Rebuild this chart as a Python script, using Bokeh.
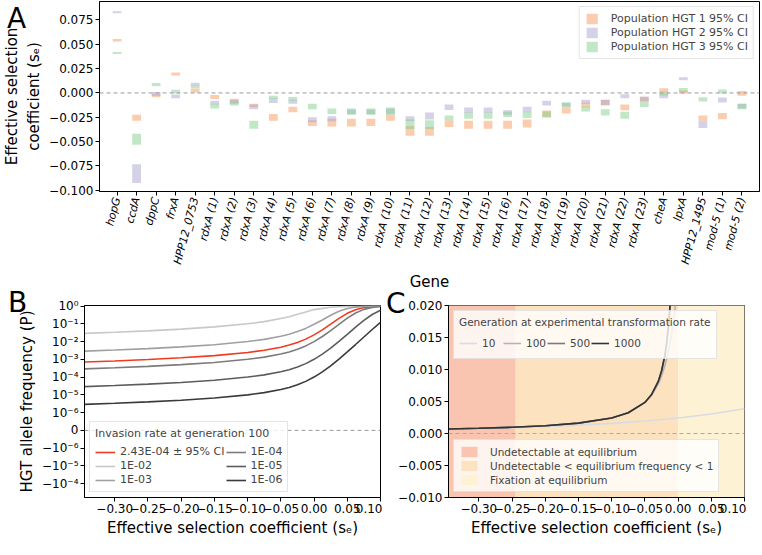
import math
from bokeh.plotting import figure
from bokeh.models import (FactorRange, Range1d, Span, Legend, LegendItem, Div,
                          FixedTicker, CustomJSTickFormatter)
from bokeh.layouts import column, row
from bokeh.embed import file_html
from bokeh.resources import INLINE

FONT = "DejaVu Sans"

# ---------------- Panel A data ----------------
genes = ["hopG", "ccdA", "dppC", "frxA", "HPP12_0753"] + \
        [f"rdxA ({i})" for i in range(1, 24)] + \
        ["cheA", "lpxA", "HPP12_1495", "mod-5 (1)", "mod-5 (2)"]

pop1_lo = [0.053, -0.0287, -0.0045, 0.018, 0.0004, -0.0061, -0.010, -0.0145, -0.0287, -0.0199,
           -0.034, -0.0345, -0.0345, -0.034, -0.0287, -0.044, -0.044, -0.035, -0.0368, -0.0368,
           -0.0368, -0.0355, -0.0245, -0.021, -0.015, -0.0126, -0.0177, -0.0087,
           0.0005, -0.0006, -0.0287, -0.0271, -0.0029]
pop1_hi = [0.0555, -0.0223, -0.0010, 0.021, 0.0045, -0.0022, -0.006, -0.011, -0.0216, -0.0141,
           -0.028, -0.0264, -0.0264, -0.0264, -0.0223, -0.034, -0.035, -0.028, -0.0287, -0.0287,
           -0.0287, -0.0274, -0.018, -0.015, -0.0097, -0.0071, -0.0119, -0.0039,
           0.0048, 0.0026, -0.0232, -0.0206, 0.0019]
pop2_lo = [0.082, -0.0925, -0.003, -0.0054, 0.0075, -0.012, -0.011, -0.0167, -0.0103, -0.0112,
           -0.030, -0.029, -0.022, -0.022, -0.022, -0.029, -0.0274, -0.0174, -0.0206, -0.0206,
           -0.0223, -0.0199, -0.0129, -0.014, -0.011, -0.0126, -0.0054, -0.0087,
           -0.0054, 0.013, -0.0361, -0.0097, -0.016]
pop2_hi = [0.084, -0.0732, 0.001, -0.0015, 0.0104, -0.008, -0.007, -0.012, -0.0054, -0.007,
           -0.025, -0.024, -0.017, -0.017, -0.016, -0.024, -0.020, -0.0119, -0.015, -0.015,
           -0.0177, -0.0141, -0.008, -0.010, -0.007, -0.0071, -0.0013, -0.004,
           -0.0006, 0.0162, -0.0287, -0.0048, -0.011]
pop3_lo = [0.040, -0.0532, 0.0068, -0.0006, 0.0048, -0.016, -0.0129, -0.0368, -0.0061, -0.008,
           -0.0167, -0.0216, -0.0223, -0.0223, -0.0223, -0.037, -0.037, -0.028, -0.0264, -0.0264,
           -0.0248, -0.0258, -0.0255, -0.015, -0.019, -0.0232, -0.0264, -0.0145,
           -0.0025, 0.001, -0.0087, -0.0006, -0.0167]
pop3_hi = [0.042, -0.0419, 0.0101, 0.0033, 0.008, -0.0112, -0.009, -0.0287, -0.0029, -0.0042,
           -0.0112, -0.016, -0.016, -0.016, -0.015, -0.027, -0.028, -0.0232, -0.020, -0.020,
           -0.0194, -0.0194, -0.019, -0.0097, -0.014, -0.0167, -0.0194, -0.0087,
           0.0016, 0.0052, -0.0045, 0.0036, -0.0112]
pop_labels = ["Population HGT 1 95% CI", "Population HGT 2 95% CI", "Population HGT 3 95% CI"]
yticks_a = [-0.100, -0.075, -0.050, -0.025, 0.000, 0.025, 0.050, 0.075]

# ---------------- Panel B data ----------------
se_b = [-0.345, -0.30, -0.25, -0.20, -0.15, -0.10, -0.075, -0.05, -0.0375, -0.025,
        -0.0125, 0.0, 0.0125, 0.025, 0.0375, 0.05, 0.0625, 0.075, 0.0875, 0.10]
p_red = [7.04e-4, 8.1e-4, 9.72e-4, 1.215e-3, 1.62e-3, 2.43e-3, 3.24e-3, 4.83e-3, 6.34e-3, 8.93e-3,
         0.0137, 0.0237, 0.0457, 0.0951, 0.2005, 0.388, 0.625, 0.8175, 0.924, 0.971]
p_1e2 = [0.029, 0.0333, 0.040, 0.050, 0.0667, 0.100, 0.133, 0.197, 0.25, 0.34,
         0.46, 0.63, 0.74, 0.85, 0.92, 0.96, 0.98, 0.99, 0.995, 0.998]
p_1e3 = [0.0029, 0.00333, 0.0040, 0.0050, 0.00667, 0.0100, 0.0133, 0.0198, 0.0258, 0.0365,
         0.055, 0.095, 0.165, 0.302, 0.508, 0.723, 0.873, 0.949, 0.98, 0.993]
p_1e4 = [2.9e-4, 3.33e-4, 4.0e-4, 5.0e-4, 6.67e-4, 1.0e-3, 1.33e-3, 1.99e-3, 2.6e-3, 3.67e-3,
         5.7e-3, 9.9e-3, 0.0193, 0.0415, 0.0936, 0.207, 0.407, 0.648, 0.834, 0.932]
p_1e5 = [2.9e-5, 3.33e-5, 4.0e-5, 5.0e-5, 6.67e-5, 1.0e-4, 1.33e-4, 1.99e-4, 2.61e-4, 3.68e-4,
         5.72e-4, 1.0e-3, 1.97e-3, 4.3e-3, 0.0102, 0.0254, 0.0642, 0.156, 0.334, 0.580]
p_1e6 = [2.9e-6, 3.33e-6, 4.0e-6, 5.0e-6, 6.67e-6, 1.0e-5, 1.33e-5, 1.99e-5, 2.61e-5, 3.68e-5,
         5.73e-5, 1.0e-4, 1.97e-4, 4.33e-4, 1.03e-3, 2.60e-3, 6.8e-3, 0.0181, 0.0478, 0.121]
b_series = [("2.43E-04 \u00b1 95% CI", p_red), ("1E-02", p_1e2), ("1E-03", p_1e3),
            ("1E-04", p_1e4), ("1E-05", p_1e5), ("1E-06", p_1e6)]
b_ticks = [7, 6, 5, 4, 3, 2, 1, 0, -1, -2, -3]
b_tick_labels = ["10\u2070", "10\u207b\u00b9", "10\u207b\u00b2", "10\u207b\u00b3", "10\u207b\u2074",
                 "10\u207b\u2075", "10\u207b\u2076", "0", "\u221210\u207b\u2076",
                 "\u221210\u207b\u2075", "\u221210\u207b\u2074"]
x_ticks = [-0.30, -0.25, -0.20, -0.15, -0.10, -0.05, 0.0, 0.05, 0.10]

# ---------------- Panel C data ----------------
se_g1000 = [-0.345, -0.30, -0.25, -0.20, -0.15, -0.10, -0.075, -0.05, -0.04, -0.03, -0.025,
            -0.02, -0.0175, -0.015, -0.0135, -0.0125, -0.012, -0.011]
g1000 = [7.04e-4, 8.1e-4, 9.72e-4, 1.215e-3, 1.62e-3, 2.43e-3, 3.24e-3, 4.86e-3, 6.08e-3, 8.1e-3,
         9.72e-3, 0.01215, 0.01389, 0.0162, 0.0180, 0.01944, 0.02025, 0.0221]
se_g500 = se_g1000
g500 = [7.04e-4, 8.1e-4, 9.72e-4, 1.215e-3, 1.62e-3, 2.43e-3, 3.24e-3, 4.86e-3, 6.07e-3, 8.09e-3,
        9.71e-3, 0.01214, 0.01388, 0.0162, 0.0180, 0.01943, 0.0202, 0.0220]
se_g100 = [-0.345, -0.30, -0.25, -0.20, -0.15, -0.10, -0.075, -0.05, -0.04, -0.03, -0.025,
           -0.02, -0.015, -0.01, -0.005, -0.0025]
g100 = [7.04e-4, 8.1e-4, 9.72e-4, 1.215e-3, 1.62e-3, 2.43e-3, 3.24e-3, 4.83e-3, 5.97e-3, 7.72e-3,
        8.93e-3, 0.01054, 0.01263, 0.0154, 0.01916, 0.02152]
se_g10 = [-0.345, -0.30, -0.25, -0.20, -0.15, -0.10, -0.05, 0.0, 0.05, 0.10]
g10 = [6.94e-4, 7.87e-4, 9.17e-4, 1.085e-3, 1.301e-3, 1.583e-3, 1.95e-3, 2.43e-3, 3.057e-3, 3.87e-3]
region_left = [-0.36, -0.2445, 0.0]
region_right = [-0.2445, 0.0, 0.11]
region_labels = ["Undetectable at equilibrium",
                 "Undetectable < equilibrium frequency < 1",
                 "Fixation at equilibrium"]
c_yticks = [-0.010, -0.005, 0.000, 0.005, 0.010, 0.015, 0.020]
panel_letters = ["A", "B", "C"]

# ---------------- helpers ----------------
def fmt(decimals):
    return CustomJSTickFormatter(code=f"""
        const s = Math.abs(tick).toFixed({decimals});
        return (tick < -1e-12 ? '\\u2212' : '') + s;""")

def style(p):
    p.grid.visible = False
    p.outline_line_color = "black"
    p.outline_line_width = 1
    p.background_fill_color = "white"
    for ax in p.axis:
        ax.major_label_text_font = FONT
        ax.major_label_text_font_size = "12px"
        ax.major_label_text_color = "black"
        ax.axis_label_text_font = FONT
        ax.axis_label_text_font_size = "15px"
        ax.axis_label_text_font_style = "normal"
        ax.axis_label_text_color = "black"
        ax.minor_tick_line_color = None
        ax.major_tick_out = 4
        ax.major_tick_in = 0
        ax.major_label_standoff = 2
        ax.axis_label_standoff = 3
        ax.axis_line_color = "black"
        ax.major_tick_line_color = "black"

def style_legend(lg, size="11px"):
    lg.label_text_font = FONT
    lg.label_text_font_size = size
    lg.title_text_font = FONT
    lg.title_text_font_size = size
    lg.title_text_font_style = "normal"
    lg.border_line_color = "#cccccc"
    lg.background_fill_color = "white"
    lg.background_fill_alpha = 0.8
    lg.padding = 5
    lg.spacing = 1
    lg.margin = 5

def symlog(v, lt=1e-6):
    if abs(v) <= lt:
        return v / lt
    return math.copysign(math.log10(abs(v) / lt) + 1.0, v)

def letter(text, left, top):
    return Div(text=text, styles={"position": "absolute", "left": f"{left}px", "top": f"{top}px",
                                  "font-family": FONT, "font-size": "28px", "line-height": "1",
                                  "color": "black", "z-index": "10"})

# ---------------- Panel A ----------------
pA = figure(x_range=FactorRange(*genes, range_padding=0.4, range_padding_units="absolute"),
            y_range=Range1d(-0.1013, 0.0940), frame_width=660, frame_height=190,
            output_backend="svg", toolbar_location=None,
            min_border_left=84, min_border_right=2, min_border_top=1, min_border_bottom=90)
cols = [("#f7a36b", 0.55), ("#a9a6d3", 0.5), ("#86cf8e", 0.5)]
rs = []
for (lo, hi), (c, a) in zip([(pop1_lo, pop1_hi), (pop2_lo, pop2_hi), (pop3_lo, pop3_hi)], cols):
    rs.append(pA.vbar(x=genes, bottom=lo, top=hi, width=0.45, fill_color=c, fill_alpha=a,
                      line_color=None))
pA.add_layout(Span(location=0, dimension="width", line_color="#999999", line_dash="4 3",
                   line_width=1))
style(pA)
pA.yaxis.ticker = FixedTicker(ticks=yticks_a)
pA.yaxis.formatter = fmt(3)
pA.yaxis.axis_label = "Effective selection\ncoefficient (s\u2091)"
pA.xaxis.axis_label = "Gene"
pA.xaxis.major_label_orientation = math.radians(75)
pA.xaxis.major_label_text_font_style = "italic"
pA.xaxis.major_label_text_font_size = "11px"
pA.xaxis.axis_label_standoff = 2
lgA = Legend(items=[LegendItem(label=l, renderers=[r]) for l, r in zip(pop_labels, rs)],
             location="top_right")
style_legend(lgA)
lgA.glyph_width = 14
lgA.glyph_height = 13
lgA.label_standoff = 12
pA.add_layout(lgA)

# ---------------- Panel B ----------------
pB = figure(x_range=Range1d(-0.3455, 0.10), y_range=Range1d(-3.78, 7.03),
            frame_width=296, frame_height=192,
            output_backend="svg", toolbar_location=None,
            min_border_left=84, min_border_right=2, min_border_top=12, min_border_bottom=40)
b_colors = ["#f23a1e", "#c8c8c8", "#a0a0a0", "#7c7c7c", "#5c5c5c", "#3a3a3a"]
b_rend = {}
for (lab, vals), c in zip(b_series, b_colors):
    ys = [symlog(v) for v in vals]
    b_rend[lab] = pB.line(se_b, ys, line_color=c, line_width=1.6)
pB.add_layout(Span(location=0, dimension="width", line_color="#999999", line_dash="4 3",
                   line_width=1))
style(pB)
pB.yaxis.ticker = FixedTicker(ticks=b_ticks)
pB.yaxis.major_label_overrides = {t: l for t, l in zip(b_ticks, b_tick_labels)}
pB.yaxis.axis_label = "HGT allele frequency (P)"
pB.xaxis.ticker = FixedTicker(ticks=x_ticks)
pB.xaxis.formatter = fmt(2)
pB.xaxis.axis_label = "Effective selection coefficient (s\u2091)"
lgB = Legend(items=[LegendItem(label=l, renderers=[b_rend[l]]) for l, _ in b_series],
             location="bottom_left", ncols=2, title="Invasion rate at generation 100")
style_legend(lgB)
lgB.glyph_width = 20
lgB.glyph_height = 12
pB.add_layout(lgB)

# ---------------- Panel C ----------------
c_ymin, c_ymax = -0.010, 0.020
pC = figure(x_range=Range1d(-0.3457, 0.10), y_range=Range1d(c_ymin, c_ymax),
            frame_width=296, frame_height=192,
            output_backend="svg", toolbar_location=None,
            min_border_left=66, min_border_right=2, min_border_top=12, min_border_bottom=40)
reg_colors = ["#f9c5b0", "#fce2bf", "#fef2d4"]
reg_r = []
for l, r, c in zip(region_left, region_right, reg_colors):
    reg_r.append(pC.quad(left=[l], right=[r], bottom=[c_ymin - 0.01], top=[c_ymax + 0.01],
                         fill_color=c, line_color=None))
pC.add_layout(Span(location=0, dimension="width", line_color="#aaaaaa", line_dash="4 3",
                   line_width=1))
r10 = pC.line(se_g10, g10, line_color="#d9dbe3", line_width=1.6)
r100 = pC.line(se_g100, g100, line_color="#b4b4b4", line_width=1.6)
r500 = pC.line(se_g500, g500, line_color="#7a7a7a", line_width=1.6)
r1000 = pC.line(se_g1000, g1000, line_color="#333333", line_width=1.6)
style(pC)
pC.yaxis.ticker = FixedTicker(ticks=c_yticks)
pC.yaxis.formatter = fmt(3)
pC.xaxis.ticker = FixedTicker(ticks=x_ticks)
pC.xaxis.formatter = fmt(2)
pC.xaxis.axis_label = "Effective selection coefficient (s\u2091)"
lgC1 = Legend(items=[LegendItem(label=l, renderers=[r]) for l, r in
                     zip(["10", "100", "500", "1000"], [r10, r100, r500, r1000])],
              location="top_left", orientation="horizontal",
              title="Generation at experimental transformation rate")
style_legend(lgC1, "10.5px")
lgC1.glyph_width = 18
lgC1.label_standoff = 5
pC.add_layout(lgC1)
lgC2 = Legend(items=[LegendItem(label=l, renderers=[r]) for l, r in zip(region_labels, reg_r)],
              location="bottom_left")
style_legend(lgC2, "10.5px")
lgC2.glyph_width = 20
lgC2.glyph_height = 13
lgC2.label_standoff = 11
pC.add_layout(lgC2)

layout = column(pA, row(pB, pC, spacing=0),
                letter(panel_letters[0], 2, 0),
                letter(panel_letters[1], 3, 284),
                letter(panel_letters[2], 381, 285),
                spacing=0)
open("out.html", "w").write(file_html(layout, INLINE))
